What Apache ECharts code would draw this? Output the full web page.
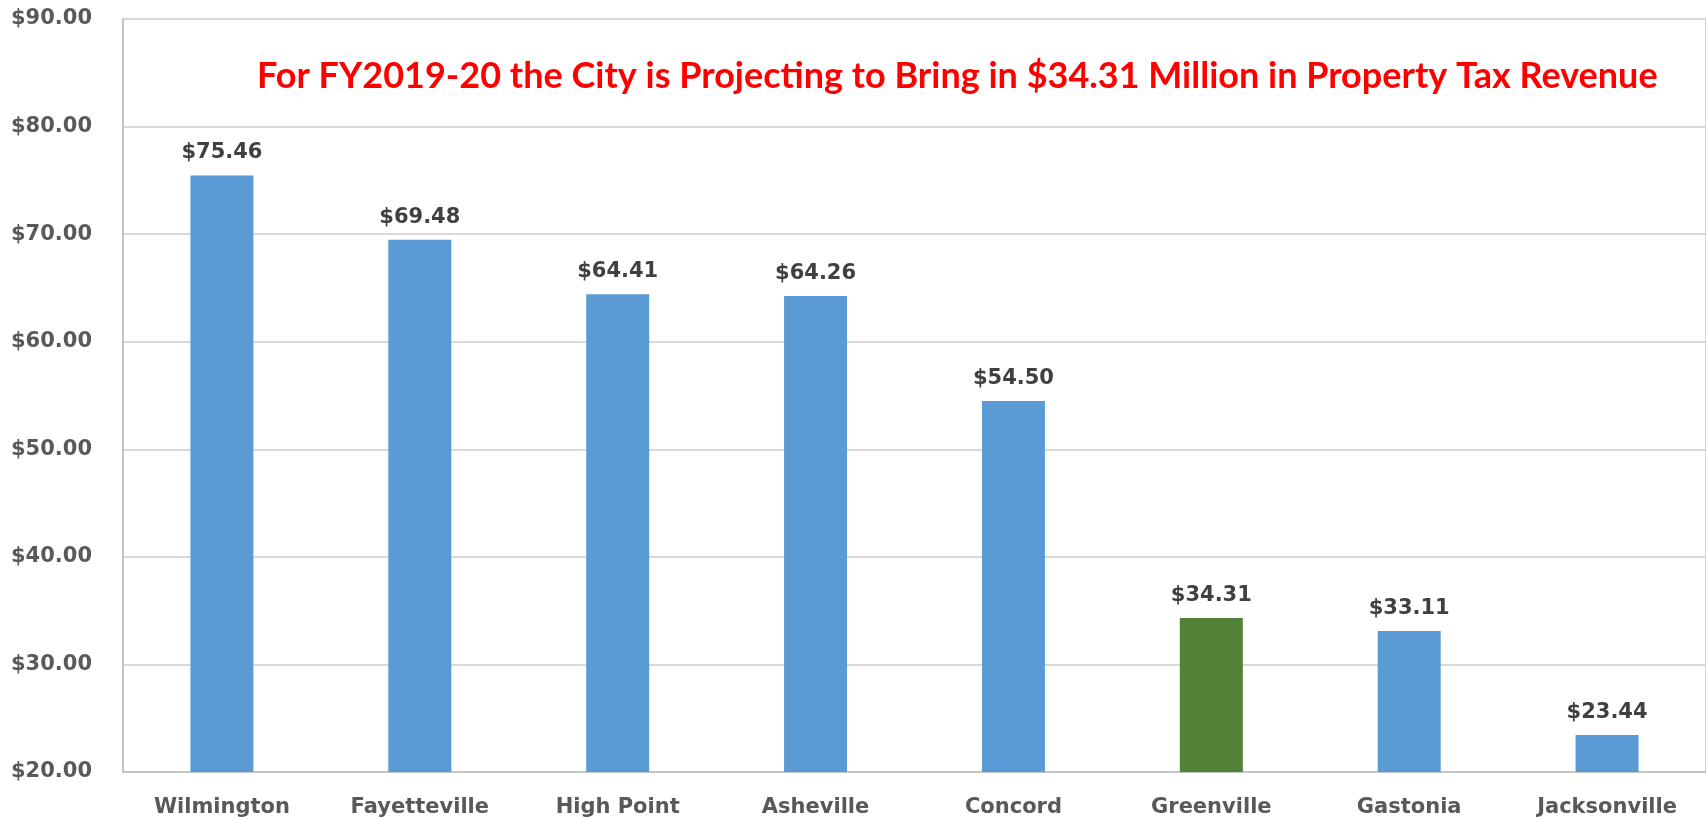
<!DOCTYPE html>
<html>
<head>
<meta charset="utf-8">
<title>Property Tax Revenue</title>
<script src="https://cdn.jsdelivr.net/npm/echarts@6/dist/echarts.min.js"></script>
<style>
  html, body { margin: 0; padding: 0; background: #fff; }
  #chart { width: 1706px; height: 820px; }
</style>
</head>
<body>
<div id="chart"></div>
<script>
// data
const cities = ['Wilmington', 'Fayetteville', 'High Point', 'Asheville', 'Concord', 'Greenville', 'Gastonia', 'Jacksonville']
const revenue = [75.46, 69.48, 64.41, 64.26, 54.50, 34.31, 33.11, 23.44]
const highlightCity = 'Greenville'
const titleText = 'For FY2019-20 the City is Projecting to Bring in $34.31 Million in Property Tax Revenue'

const blue = '#5b9bd5'
const green = '#538135'

const chart = echarts.init(document.getElementById('chart'))

chart.setOption({
  animation: false,
  title: {
    text: titleText,
    left: 252,
    top: 53,
    textStyle: {
      color: '#ff0000',
      fontFamily: 'Lato',
      fontWeight: 'bold',
      fontSize: 36
    }
  },
  grid: {
    left: 123,
    right: -3,
    top: 19,
    bottom: 48,
    show: true,
    borderColor: '#bfbfbf',
    borderWidth: 1.5
  },
  xAxis: {
    type: 'category',
    data: cities,
    axisTick: { show: false },
    axisLine: { lineStyle: { color: '#bfbfbf', width: 1.5 } },
    axisLabel: {
      margin: 25,
      color: '#595959',
      fontFamily: 'DejaVu Sans',
      fontWeight: 'bold',
      fontSize: 21
    }
  },
  yAxis: {
    type: 'value',
    min: 20,
    max: 90,
    interval: 10,
    axisLine: { show: true, lineStyle: { color: '#bfbfbf', width: 1.5 } },
    axisTick: { show: false },
    splitLine: { lineStyle: { color: '#d9d9d9', width: 2 } },
    axisLabel: {
      margin: 31,
      color: '#595959',
      fontFamily: 'DejaVu Sans',
      fontWeight: 'bold',
      fontSize: 21,
      formatter: v => '$' + v.toFixed(2)
    }
  },
  series: [
    {
      type: 'bar',
      barWidth: 63,
      data: revenue.map((v, i) => ({
        value: v,
        itemStyle: { color: cities[i] === highlightCity ? green : blue }
      })),
      label: {
        show: true,
        position: 'top',
        distance: 12,
        color: '#404040',
        fontFamily: 'DejaVu Sans',
        fontWeight: 'bold',
        fontSize: 21,
        formatter: p => '$' + p.value.toFixed(2)
      }
    }
  ]
})
</script>
</body>
</html>
